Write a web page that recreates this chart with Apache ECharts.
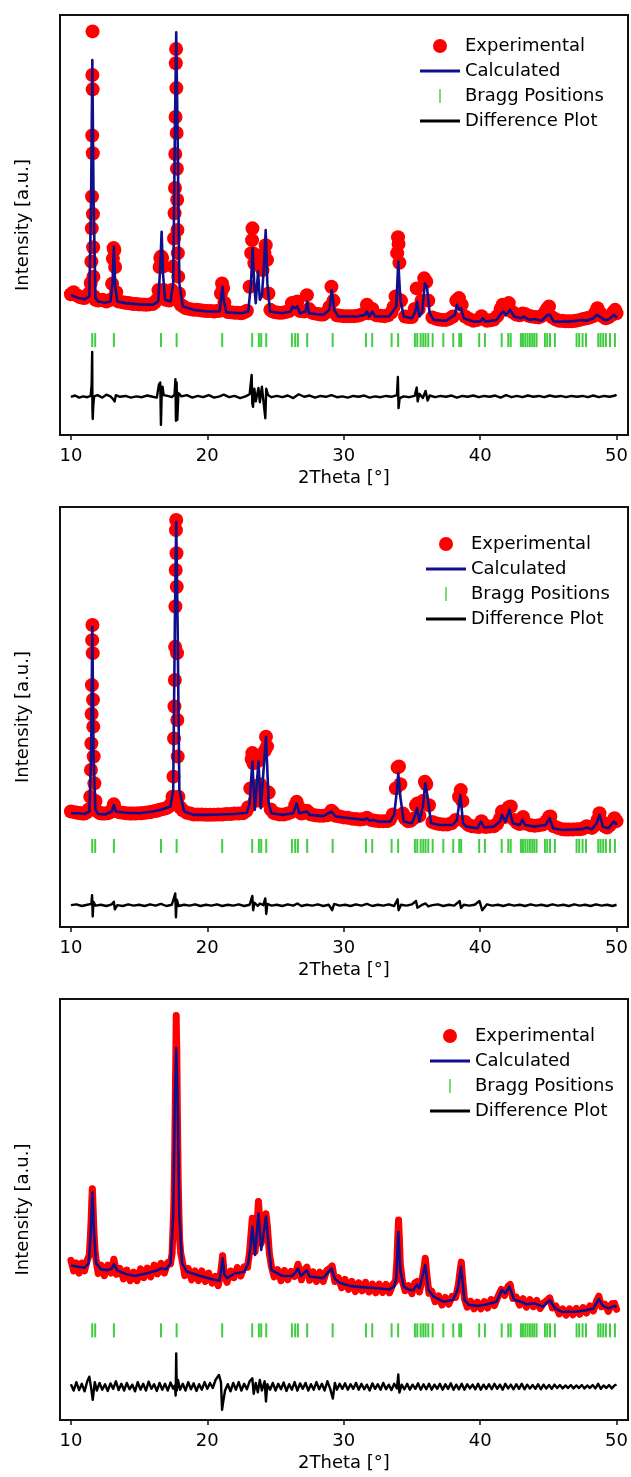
<!DOCTYPE html>
<html>
<head>
<meta charset="utf-8">
<script src="https://cdn.jsdelivr.net/npm/echarts@6/dist/echarts.min.js"></script>
<style>
  html, body { margin: 0; padding: 0; background: #fff; }
  #main { width: 631px; height: 1477px; }
</style>
</head>
<body>
<div id="main"></div>
<script>
// Bragg reflection positions (2Theta), same phase for all three patterns
var braggPos = [11.56, 11.78, 13.15, 16.6, 17.75, 21.09, 23.29, 23.78, 23.95, 24.32, 26.2, 26.44, 26.64, 27.32, 29.19,
  31.63, 32.09, 33.51, 33.99, 35.22, 35.39, 35.64, 35.83, 36.0, 36.2, 36.52, 37.3, 38.03, 38.47, 38.61, 39.93, 40.35,
  41.58, 42.06, 42.24, 42.99, 43.14, 43.31, 43.48, 43.65, 43.82, 43.97, 44.14, 44.75, 44.92, 45.12, 45.48,
  47.07, 47.26, 47.51, 47.76, 48.66, 48.83, 49.02, 49.22, 49.52, 49.88];
// level (a.u.) where the bragg row sits in each panel
var braggLevel = [226, 193, 213];

// ---- pattern 1 ----
var p1Exp = [[10.0,335],[10.2,340],[10.4,333],[10.55,331],[10.7,328],[10.85,327],[11.0,326],[11.2,330],[11.35,338],[11.45,362],[11.5,413],
  [11.53,492],[11.55,568],[11.565,713],[11.575,857],[11.585,961],[11.595,823],[11.605,671],[11.615,526],[11.63,447],[11.65,377],[11.7,330],
  [11.8,322],[12.0,320],[12.3,322],[12.6,318],[12.9,322],[13.02,360],[13.08,420],[13.13,445],[13.18,440],[13.24,400],[13.32,340],[13.5,318],
  [13.8,316],[14.0,315],[14.2,314],[14.4,313],[14.6,312],[14.8,312],[15.0,311],[15.25,311],[15.5,310],[15.75,311],[16.0,312],[16.15,316],
  [16.3,322],[16.42,345],[16.5,400],[16.56,421],[16.62,425],[16.68,421],[16.74,401],[16.82,345],[16.95,322],[17.2,320],[17.4,345],[17.5,401],
  [17.56,468],[17.6,528],[17.63,588],[17.65,669],[17.67,757],[17.69,885],[17.71,919],[17.73,826],[17.75,719],[17.77,634],[17.79,560],
  [17.81,488],[17.84,433],[17.87,377],[17.92,337],[18.05,310],[18.25,306],[18.4,302],[18.7,300],[19.0,298],[19.25,298],[19.5,297],[19.75,296],
  [20.0,295],[20.25,295],[20.5,294],[20.7,295],[20.9,296],[21.0,337],[21.08,361],[21.16,350],[21.25,315],[21.5,293],[21.75,292],[22.0,291],
  [22.25,291],[22.5,290],[22.7,292],[22.9,296],[23.1,353],[23.22,433],[23.28,464],[23.31,492],[23.35,433],[23.45,409],[23.6,417],[23.75,425],
  [23.9,401],[24.05,393],[24.18,433],[24.28,452],[24.38,417],[24.48,337],[24.62,298],[24.8,294],[25.0,292],[25.25,291],[25.5,291],[25.75,293],
  [26.0,295],[26.2,314],[26.4,310],[26.6,318],[26.8,295],[27.1,294],[27.3,333],[27.45,300],[27.6,293],[27.8,290],[28.1,288],[28.3,287],
  [28.5,287],[28.75,292],[28.95,305],[29.1,353],[29.25,320],[29.5,285],[29.75,284],[30.0,283],[30.25,283],[30.5,283],[30.75,283],[31.0,284],
  [31.25,286],[31.5,290],[31.7,310],[31.85,290],[32.1,300],[32.4,285],[32.7,284],[33.0,283],[33.25,285],[33.5,292],[33.65,305],[33.8,330],
  [33.92,433],[33.98,471],[34.02,455],[34.08,410],[34.2,320],[34.5,282],[34.75,281],[35.0,281],[35.2,300],[35.35,349],[35.5,300],[35.7,320],
  [35.9,373],[36.05,365],[36.2,320],[36.5,280],[36.75,277],[37.0,275],[37.25,274],[37.5,274],[37.75,277],[38.0,282],[38.25,320],[38.45,326],
  [38.65,310],[38.9,282],[39.2,276],[39.5,272],[39.8,274],[40.1,283],[40.3,276],[40.5,272],[40.75,273],[41.0,275],[41.25,283],[41.5,300],
  [41.65,310],[41.85,298],[42.1,314],[42.4,292],[42.65,287],[42.9,285],[43.1,289],[43.3,288],[43.55,284],[43.8,282],[44.05,281],[44.3,280],
  [44.55,284],[44.75,292],[44.9,300],[45.05,306],[45.3,280],[45.55,275],[45.8,272],[46.0,272],[46.25,271],[46.5,271],[46.75,271],[47.0,272],
  [47.3,274],[47.55,276],[47.8,278],[48.05,280],[48.3,283],[48.45,292],[48.6,302],[48.8,290],[49.0,282],[49.2,278],[49.4,280],[49.6,285],
  [49.75,292],[49.9,298],[50.0,290]];
var p1Calc = [[10.0,333],[10.5,327],[11.0,323],[11.35,330],[11.48,560],[11.57,893],[11.66,560],[11.8,326],[12.0,318],[12.5,315],[12.9,318],
  [13.05,361],[13.15,449],[13.25,353],[13.4,318],[14.0,314],[15.0,311],[16.0,310],[16.4,318],[16.55,401],[16.65,484],[16.75,385],[16.9,322],
  [17.3,318],[17.5,361],[17.62,719],[17.72,959],[17.82,719],[17.95,361],[18.2,306],[19.0,298],[20.0,294],[20.9,294],[21.05,337],[21.12,353],
  [21.2,322],[21.4,292],[22.5,290],[23.0,294],[23.2,361],[23.32,445],[23.45,353],[23.55,314],[23.72,389],[23.85,322],[24.0,330],[24.15,401],
  [24.28,488],[24.4,361],[24.6,294],[25.5,290],[26.1,294],[26.25,306],[26.4,302],[26.6,306],[26.8,290],[27.2,294],[27.33,318],[27.45,290],
  [28.5,286],[28.95,298],[29.12,345],[29.3,298],[29.6,282],[31.0,282],[31.55,286],[31.7,294],[31.85,282],[32.1,294],[32.3,282],[33.3,282],
  [33.6,294],[33.85,306],[34.0,413],[34.15,322],[34.4,282],[35.0,278],[35.25,294],[35.38,318],[35.55,282],[35.75,294],[35.95,361],[36.1,353],
  [36.3,290],[36.6,274],[37.5,272],[38.15,286],[38.3,310],[38.45,298],[38.6,302],[38.8,278],[39.5,270],[40.0,270],[40.2,278],[40.4,270],
  [41.2,274],[41.55,290],[41.7,294],[41.9,286],[42.2,298],[42.5,282],[43.0,278],[43.2,282],[43.6,274],[44.0,276],[44.5,272],[44.95,286],
  [45.1,286],[45.4,270],[46.5,270],[47.5,274],[47.8,272],[48.3,278],[48.55,286],[48.75,282],[49.1,274],[49.4,274],[49.8,286],[49.95,282],[50.0,278]];
var p1Diff = [[10.0,91],[10.3,94],[10.6,89],[10.9,92],[11.2,90],[11.45,93],[11.52,120],[11.56,198],[11.58,60],[11.6,38],[11.64,70],[11.7,92],
  [11.95,95],[12.3,89],[12.6,96],[12.9,92],[13.1,85],[13.2,80],[13.3,95],[13.6,91],[14.0,93],[14.4,89],[14.8,92],[15.2,90],[15.6,94],[16.0,91],
  [16.3,89],[16.45,120],[16.55,125],[16.6,24],[16.65,90],[16.72,115],[16.8,95],[17.1,93],[17.4,90],[17.6,96],[17.66,133],[17.7,34],[17.75,125],
  [17.8,36],[17.88,100],[18.1,92],[18.5,95],[18.9,89],[19.3,93],[19.7,90],[20.1,95],[20.5,89],[20.9,92],[21.2,96],[21.6,90],[22.0,93],[22.4,88],
  [22.8,92],[23.1,97],[23.25,143],[23.3,75],[23.35,67],[23.45,110],[23.55,80],[23.75,112],[23.85,78],[24.0,115],[24.1,85],[24.25,40],[24.32,110],
  [24.45,95],[24.7,90],[25.1,93],[25.5,90],[25.9,94],[26.3,88],[26.7,97],[27.1,91],[27.5,94],[27.9,89],[28.3,93],[28.7,91],[29.1,95],[29.5,90],
  [29.9,92],[30.3,89],[30.7,93],[31.1,91],[31.5,94],[31.9,89],[32.3,92],[32.7,90],[33.1,93],[33.5,91],[33.9,95],[33.97,138],[34.02,64],[34.1,88],
  [34.4,92],[34.8,90],[35.2,93],[35.35,113],[35.42,80],[35.55,98],[35.8,88],[36.0,105],[36.15,82],[36.3,94],[36.7,90],[37.1,93],[37.5,91],
  [37.9,94],[38.3,89],[38.7,93],[39.1,91],[39.5,94],[39.9,90],[40.3,93],[40.7,91],[41.1,94],[41.5,89],[41.9,95],[42.3,90],[42.7,93],[43.1,90],
  [43.5,94],[43.9,91],[44.3,93],[44.7,90],[45.1,94],[45.5,91],[45.9,93],[46.3,90],[46.7,93],[47.1,91],[47.5,93],[47.9,90],[48.3,94],[48.7,90],
  [49.1,93],[49.5,91],[49.9,94],[50.0,96]];

// ---- pattern 2 ----
var p2Exp = [[10.0,275],[10.3,273],[10.5,272],[10.7,271],[10.85,270],[11.0,270],[11.15,273],[11.3,280],[11.42,310],[11.47,374],[11.5,437],
  [11.52,507],[11.54,576],[11.56,683],[11.58,719],[11.6,652],[11.62,541],[11.64,477],[11.67,406],[11.72,342],[11.8,300],[11.95,275],[12.15,271],
  [12.3,270],[12.5,270],[12.7,271],[12.85,273],[13.0,278],[13.15,292],[13.35,276],[13.55,273],[13.8,272],[14.05,271],[14.3,270],[14.5,270],
  [14.75,270],[15.0,271],[15.2,271],[15.45,272],[15.7,273],[15.9,274],[16.15,276],[16.35,277],[16.5,279],[16.75,281],[17.0,283],[17.15,286],
  [17.3,292],[17.45,310],[17.52,358],[17.56,449],[17.59,525],[17.62,588],[17.64,667],[17.66,763],[17.68,850],[17.7,945],[17.72,969],[17.74,890],
  [17.76,810],[17.78,652],[17.8,493],[17.83,406],[17.88,310],[18.0,285],[18.2,278],[18.5,272],[18.75,270],[19.0,268],[19.3,268],[19.6,268],
  [19.9,267],[20.2,267],[20.5,267],[20.8,268],[21.1,268],[21.4,269],[21.7,269],[22.0,270],[22.3,270],[22.6,271],[22.85,276],[23.0,285],
  [23.15,330],[23.25,400],[23.3,414],[23.38,390],[23.48,300],[23.6,330],[23.7,395],[23.78,402],[23.86,340],[23.95,300],[24.1,330],[24.22,420],
  [24.3,453],[24.38,430],[24.5,320],[24.65,280],[24.85,272],[25.0,270],[25.3,268],[25.6,268],[25.9,270],[26.2,274],[26.45,290],[26.55,298],
  [26.7,285],[26.9,270],[27.1,272],[27.3,277],[27.45,272],[27.6,268],[27.9,266],[28.2,265],[28.5,265],[28.8,266],[28.95,270],[29.1,277],
  [29.25,272],[29.4,265],[29.7,263],[30.0,261],[30.3,260],[30.6,258],[30.9,257],[31.2,256],[31.45,257],[31.7,260],[32.0,255],[32.3,253],
  [32.6,252],[32.9,252],[33.2,252],[33.4,256],[33.6,268],[33.82,330],[33.95,380],[34.05,382],[34.15,340],[34.35,270],[34.5,258],[34.7,252],
  [34.9,253],[35.1,258],[35.3,290],[35.4,294],[35.55,265],[35.8,300],[35.95,346],[36.05,340],[36.25,290],[36.5,250],[36.75,247],[37.0,245],
  [37.3,244],[37.6,244],[37.9,247],[38.2,255],[38.45,310],[38.58,326],[38.7,300],[38.9,250],[39.15,243],[39.4,240],[39.65,239],[39.9,238],
  [40.1,252],[40.25,244],[40.4,238],[40.7,239],[41.0,240],[41.25,246],[41.45,258],[41.6,275],[41.8,262],[42.1,285],[42.25,287],[42.5,255],
  [42.7,248],[42.9,245],[43.15,262],[43.4,246],[43.7,242],[44.0,241],[44.3,242],[44.6,244],[44.85,252],[45.05,262],[45.15,263],[45.4,240],
  [45.7,236],[46.0,233],[46.25,232],[46.5,232],[46.8,232],[47.1,233],[47.3,233],[47.5,234],[47.8,240],[48.0,238],[48.2,236],[48.4,242],
  [48.6,255],[48.75,271],[48.95,250],[49.15,240],[49.3,237],[49.5,242],[49.7,250],[49.85,259],[50.0,252]];
var p2Calc = [[10.0,271],[10.5,271],[11.0,269],[11.35,275],[11.48,406],[11.57,715],[11.66,406],[11.8,279],[12.0,269],[12.5,268],[13.0,275],
  [13.15,290],[13.3,275],[14.0,272],[15.0,271],[16.0,275],[16.6,279],[17.3,287],[17.5,326],[17.62,723],[17.72,965],[17.82,723],[17.95,326],
  [18.3,275],[19.0,267],[20.0,267],[21.0,268],[22.0,269],[22.9,272],[23.1,294],[23.3,394],[23.48,279],[23.75,394],[23.92,283],[24.05,287],
  [24.3,453],[24.5,294],[24.7,271],[25.5,267],[26.3,271],[26.55,294],[26.75,271],[27.3,275],[27.5,267],[28.5,264],[29.1,275],[29.4,263],
  [30.5,259],[31.5,255],[31.7,259],[31.9,253],[32.2,255],[32.5,251],[33.4,251],[33.7,267],[33.9,326],[34.0,366],[34.15,310],[34.4,251],
  [35.0,247],[35.2,263],[35.37,283],[35.55,251],[35.8,287],[35.98,342],[36.15,310],[36.4,247],[37.0,243],[38.0,243],[38.3,255],[38.55,314],
  [38.75,247],[39.0,239],[39.8,235],[40.05,251],[40.3,237],[41.0,239],[41.45,251],[41.6,267],[41.85,251],[42.15,279],[42.4,247],[42.9,243],
  [43.1,255],[43.3,243],[44.0,239],[44.8,243],[45.1,259],[45.35,235],[46.0,231],[47.5,233],[47.8,237],[48.2,233],[48.55,247],[48.75,267],
  [49.0,239],[49.4,235],[49.8,251],[49.95,247],[50.0,243]];
var p2Diff = [[10.0,52],[10.4,54],[10.8,50],[11.2,53],[11.5,55],[11.55,76],[11.6,25],[11.65,60],[11.8,51],[12.2,53],[12.6,50],[13.0,54],
  [13.15,60],[13.22,42],[13.4,52],[13.8,50],[14.2,54],[14.6,51],[15.0,53],[15.4,50],[15.8,54],[16.2,51],[16.6,55],[17.0,50],[17.4,53],
  [17.65,80],[17.7,23],[17.76,65],[17.9,50],[18.3,53],[18.7,51],[19.1,54],[19.5,50],[19.9,53],[20.3,51],[20.7,54],[21.1,50],[21.5,53],
  [21.9,51],[22.3,54],[22.7,50],[23.1,53],[23.3,74],[23.36,40],[23.45,58],[23.7,50],[23.85,56],[24.1,52],[24.25,68],[24.32,31],[24.4,55],
  [24.7,51],[25.1,53],[25.5,50],[25.9,54],[26.3,51],[26.6,56],[26.9,50],[27.3,53],[27.7,51],[28.1,54],[28.5,50],[28.9,53],[29.15,40],
  [29.3,55],[29.7,51],[30.1,53],[30.5,50],[30.9,54],[31.3,51],[31.7,55],[32.1,50],[32.5,53],[32.9,51],[33.3,54],[33.7,50],[33.95,66],
  [34.02,40],[34.2,53],[34.6,51],[35.0,54],[35.3,62],[35.4,46],[35.7,52],[36.0,56],[36.2,49],[36.5,52],[36.9,54],[37.3,50],[37.7,53],
  [38.1,51],[38.5,62],[38.6,45],[38.8,53],[39.2,51],[39.6,53],[39.95,62],[40.15,40],[40.3,46],[40.5,54],[40.9,51],[41.3,53],[41.7,50],
  [42.1,54],[42.5,51],[42.9,53],[43.3,50],[43.7,54],[44.1,51],[44.5,53],[44.9,50],[45.3,54],[45.7,51],[46.1,53],[46.5,50],[46.9,54],
  [47.3,51],[47.7,53],[48.1,50],[48.5,54],[48.9,51],[49.3,53],[49.7,50],[50.0,53]];

// ---- pattern 3 ----
var p3Exp = [[10.0,379],[10.2,354],[10.4,373],[10.6,349],[10.8,373],[11.0,354],[11.2,380],[11.35,392],[11.45,450],[11.5,490],[11.53,520],
  [11.57,549],[11.6,530],[11.63,500],[11.68,455],[11.75,410],[11.85,378],[12.0,348],[12.2,368],[12.45,343],[12.7,368],[12.95,349],[13.15,382],
  [13.35,346],[13.6,360],[13.85,335],[14.1,356],[14.35,331],[14.6,351],[14.85,331],[15.1,359],[15.35,338],[15.6,361],[15.85,340],[16.1,368],
  [16.35,347],[16.6,372],[16.85,349],[17.1,374],[17.3,371],[17.42,396],[17.48,451],[17.53,491],[17.56,531],[17.59,586],[17.61,630],[17.63,693],
  [17.65,744],[17.67,808],[17.69,859],[17.71,919],[17.72,961],[17.73,931],[17.745,907],[17.76,883],[17.775,836],[17.79,776],[17.81,717],
  [17.83,657],[17.85,606],[17.87,558],[17.9,515],[17.93,475],[17.97,428],[18.05,396],[18.15,380],[18.35,343],[18.6,360],[18.85,333],[19.1,354],
  [19.35,331],[19.6,354],[19.85,329],[20.1,349],[20.35,325],[20.6,341],[20.8,319],[21.0,355],[21.12,390],[21.25,342],[21.45,327],[21.7,354],
  [21.95,338],[22.2,362],[22.45,342],[22.7,364],[22.95,363],[23.1,400],[23.2,440],[23.3,479],[23.4,440],[23.5,400],[23.62,450],[23.75,519],
  [23.85,470],[23.95,420],[24.1,450],[24.3,490],[24.4,460],[24.55,395],[24.7,365],[24.9,340],[25.15,357],[25.4,331],[25.65,355],[25.9,333],
  [26.15,353],[26.4,341],[26.65,370],[26.9,333],[27.1,357],[27.3,363],[27.5,332],[27.75,352],[28.0,329],[28.25,351],[28.5,329],[28.75,355],
  [29.0,361],[29.15,366],[29.35,329],[29.6,338],[29.85,314],[30.1,334],[30.35,310],[30.6,329],[30.85,305],[31.1,326],[31.35,307],[31.6,327],
  [31.85,304],[32.1,323],[32.35,302],[32.6,323],[32.85,303],[33.1,322],[33.35,302],[33.6,322],[33.8,330],[33.9,380],[33.97,440],[34.02,475],
  [34.08,430],[34.15,370],[34.3,330],[34.5,307],[34.75,319],[35.0,300],[35.2,325],[35.37,329],[35.55,304],[35.75,335],[35.9,365],[35.98,384],
  [36.08,350],[36.25,301],[36.45,306],[36.7,281],[36.95,295],[37.2,273],[37.45,291],[37.7,275],[37.95,294],[38.2,291],[38.4,320],[38.55,360],
  [38.62,375],[38.7,340],[38.85,288],[39.05,268],[39.3,282],[39.55,264],[39.8,280],[40.05,264],[40.3,281],[40.55,266],[40.8,286],[41.05,272],
  [41.3,293],[41.55,310],[41.8,296],[42.05,318],[42.2,322],[42.4,289],[42.65,292],[42.9,273],[43.15,288],[43.4,268],[43.65,286],[43.9,269],
  [44.15,284],[44.4,265],[44.65,278],[44.9,284],[45.1,290],[45.3,266],[45.55,271],[45.8,252],[46.05,264],[46.3,249],[46.55,264],[46.8,250],
  [47.05,265],[47.3,251],[47.55,267],[47.8,254],[48.05,271],[48.3,259],[48.55,284],[48.7,294],[48.9,269],[49.15,275],[49.4,258],[49.65,276],
  [49.85,277],[50.0,263]];
var p3Calc = [[10.0,367],[10.5,364],[11.0,362],[11.3,372],[11.45,443],[11.57,540],[11.7,443],[11.85,372],[12.2,358],[12.7,356],[13.0,360],
  [13.15,370],[13.4,355],[14.0,347],[14.7,342],[15.5,348],[16.3,355],[16.6,360],[17.0,358],[17.3,372],[17.5,483],[17.62,760],[17.72,883],
  [17.82,760],[17.95,483],[18.15,372],[18.5,352],[19.5,342],[20.5,333],[20.9,331],[21.05,365],[21.12,384],[21.25,345],[21.45,337],[22.0,348],
  [22.7,352],[23.0,372],[23.15,410],[23.3,459],[23.5,392],[23.75,491],[23.95,404],[24.3,483],[24.5,412],[24.7,356],[25.5,342],[26.2,342],
  [26.5,352],[26.65,360],[26.85,342],[27.3,355],[27.5,341],[28.5,337],[29.1,360],[29.35,335],[29.7,326],[30.5,318],[31.5,315],[32.5,313],
  [33.3,310],[33.7,317],[33.85,337],[34.0,447],[34.15,356],[34.4,317],[34.8,309],[35.1,309],[35.37,321],[35.55,313],[35.98,368],[36.2,309],
  [36.6,293],[37.3,281],[38.0,285],[38.35,309],[38.6,364],[38.85,285],[39.2,273],[39.8,271],[40.3,273],[41.2,281],[41.6,309],[41.85,301],
  [42.15,317],[42.5,285],[43.0,281],[43.4,275],[44.0,277],[44.6,269],[45.1,285],[45.5,265],[46.0,257],[47.0,257],[47.8,261],[48.3,265],
  [48.7,287],[49.0,271],[49.4,265],[49.85,271],[50.0,268]];
var p3Diff = [[10.0,85],[10.2,70],[10.4,90],[10.6,71],[10.8,86],[11.0,68],[11.2,92],[11.35,103],[11.5,72],[11.6,48],[11.75,90],[11.9,70],
  [12.1,88],[12.3,72],[12.5,85],[12.7,69],[12.9,87],[13.1,74],[13.3,92],[13.5,71],[13.7,86],[13.9,70],[14.1,88],[14.3,73],[14.5,84],[14.7,68],
  [14.9,90],[15.1,72],[15.3,86],[15.5,70],[15.7,91],[15.9,74],[16.1,85],[16.3,69],[16.5,88],[16.7,72],[16.9,86],[17.1,70],[17.3,89],[17.5,74],
  [17.62,82],[17.68,58],[17.72,158],[17.76,70],[17.85,95],[18.0,72],[18.2,86],[18.4,70],[18.6,90],[18.8,73],[19.0,87],[19.2,69],[19.4,85],
  [19.6,72],[19.8,90],[20.0,74],[20.2,88],[20.4,76],[20.6,95],[20.85,107],[21.0,90],[21.08,24],[21.15,40],[21.3,70],[21.5,85],[21.7,68],
  [21.9,88],[22.1,72],[22.3,90],[22.5,70],[22.7,86],[22.9,73],[23.1,92],[23.3,99],[23.4,62],[23.55,88],[23.7,66],[23.85,95],[24.0,70],
  [24.2,92],[24.3,44],[24.4,85],[24.6,72],[24.8,88],[25.0,70],[25.2,86],[25.4,73],[25.6,89],[25.8,69],[26.0,85],[26.2,72],[26.4,90],[26.6,70],
  [26.8,87],[27.0,74],[27.2,88],[27.4,70],[27.6,85],[27.8,72],[28.0,90],[28.2,73],[28.4,86],[28.6,70],[28.8,92],[29.0,75],[29.2,51],[29.35,88],
  [29.5,72],[29.7,86],[29.9,74],[30.1,87],[30.3,72],[30.5,85],[30.7,74],[30.9,88],[31.1,72],[31.3,86],[31.5,73],[31.7,84],[31.9,70],[32.1,87],
  [32.3,74],[32.5,85],[32.7,72],[32.9,88],[33.1,73],[33.3,84],[33.5,71],[33.7,86],[33.9,75],[34.0,108],[34.08,65],[34.25,84],[34.45,73],
  [34.65,86],[34.85,72],[35.05,84],[35.25,74],[35.45,87],[35.65,72],[35.85,85],[36.05,73],[36.25,86],[36.45,72],[36.65,84],[36.85,74],
  [37.05,86],[37.25,72],[37.45,85],[37.65,74],[37.85,87],[38.05,72],[38.25,84],[38.45,73],[38.65,86],[38.85,72],[39.05,85],[39.25,75],
  [39.45,84],[39.65,73],[39.85,86],[40.05,72],[40.25,84],[40.45,74],[40.65,85],[40.85,73],[41.05,86],[41.25,74],[41.45,84],[41.65,72],
  [41.85,86],[42.05,75],[42.25,84],[42.45,73],[42.65,85],[42.85,74],[43.05,86],[43.25,73],[43.45,84],[43.65,75],[43.85,83],[44.05,74],
  [44.25,85],[44.45,73],[44.65,84],[44.85,75],[45.05,83],[45.25,74],[45.45,84],[45.65,76],[45.85,83],[46.05,75],[46.25,82],[46.45,76],
  [46.65,83],[46.85,75],[47.05,82],[47.25,76],[47.45,83],[47.65,75],[47.85,82],[48.05,76],[48.25,83],[48.45,75],[48.65,86],[48.85,74],
  [49.05,82],[49.25,76],[49.45,83],[49.65,75],[49.85,82],[50.0,84]];

var xTicks = [10, 20, 30, 40, 50];

// panel 1 and 2: big overlapping dots; panel 3: small noisy dots joined by a red band
var panels = [
  { exp: p1Exp, calc: p1Calc, diff: p1Diff, top: 15, bottom: 1042, legendLeft: 420, legendTop: 37, dot: 14, band: 0 },
  { exp: p2Exp, calc: p2Calc, diff: p2Diff, top: 507, bottom: 550, legendLeft: 426, legendTop: 535, dot: 14, band: 0 },
  { exp: p3Exp, calc: p3Calc, diff: p3Diff, top: 999, bottom: 57, legendLeft: 430, legendTop: 1027, dot: 6, band: 7 }
];

var font = 'DejaVu Sans';
var lineIcon = 'path://M0,0H40V3H0Z';
var grids = [], xAxes = [], yAxes = [], legends = [], series = [];

panels.forEach(function (p, i) {
  grids.push({
    left: 60, right: 3, top: p.top, bottom: p.bottom,
    show: true, borderColor: '#111', borderWidth: 2, backgroundColor: 'transparent'
  });
  xAxes.push({
    gridIndex: i, type: 'value', min: 9.2, max: 50.84,
    name: '2Theta [°]', nameLocation: 'middle', nameGap: 34,
    nameTextStyle: { fontFamily: font, fontSize: 18, color: '#000' },
    axisLine: { show: true, lineStyle: { color: '#111', width: 2 } },
    axisTick: { show: true, customValues: xTicks, length: 5, lineStyle: { color: '#111', width: 1.5 } },
    axisLabel: { customValues: xTicks, margin: 12, fontFamily: font, fontSize: 18, color: '#000' },
    splitLine: { show: false }
  });
  yAxes.push({
    gridIndex: i, type: 'value', min: 0, max: 1000,
    name: 'Intensity [a.u.]', nameLocation: 'middle', nameGap: 28,
    nameTextStyle: { fontFamily: font, fontSize: 18, color: '#000' },
    axisLine: { show: false }, axisTick: { show: false },
    axisLabel: { show: false }, splitLine: { show: false }
  });
  legends.push({
    orient: 'vertical', left: p.legendLeft, top: p.legendTop, padding: 0,
    itemWidth: 40, itemHeight: 14, itemGap: 7, selectedMode: false,
    textStyle: { fontFamily: font, fontSize: 18, color: '#000' },
    data: [
      { name: 'Experimental', icon: 'circle' },
      { name: 'Calculated', icon: lineIcon },
      { name: 'Bragg Positions', icon: 'path://M0,0H1V10H0Z' },
      { name: 'Difference Plot', icon: lineIcon }
    ]
  });
  series.push({
    name: 'Experimental', type: 'line', xAxisIndex: i, yAxisIndex: i, data: p.exp,
    symbol: 'circle', symbolSize: p.dot, showSymbol: true, showAllSymbol: true,
    itemStyle: { color: '#ff0000' },
    lineStyle: { color: '#ff0000', width: p.band, opacity: p.band ? 1 : 0, join: 'round', cap: 'round' },
    z: 1
  });
  series.push({
    name: 'Calculated', type: 'line', xAxisIndex: i, yAxisIndex: i, data: p.calc,
    symbol: 'none', itemStyle: { color: '#10108c' },
    lineStyle: { color: '#10108c', width: 2.6, join: 'round' }, z: 3
  });
  series.push({
    name: 'Bragg Positions', type: 'scatter', xAxisIndex: i, yAxisIndex: i,
    data: braggPos.map(function (b) { return [b, braggLevel[i]]; }),
    symbol: 'rect', symbolSize: [2, 14], itemStyle: { color: '#11c011' }, z: 2
  });
  series.push({
    name: 'Difference Plot', type: 'line', xAxisIndex: i, yAxisIndex: i, data: p.diff,
    symbol: 'none', itemStyle: { color: '#000' },
    lineStyle: { color: '#000', width: 2.4, join: 'round' }, z: 3
  });
});

var myChart = echarts.init(document.getElementById('main'), null, { renderer: 'canvas' });
myChart.setOption({
  animation: false,
  backgroundColor: '#fff',
  grid: grids,
  xAxis: xAxes,
  yAxis: yAxes,
  legend: legends,
  series: series
});
</script>
</body>
</html>
